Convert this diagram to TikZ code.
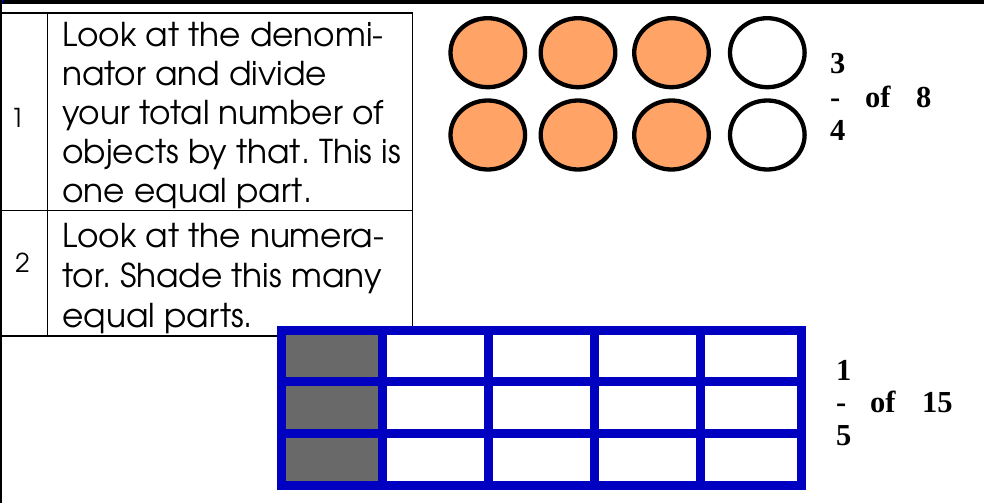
\documentclass[tikz,border=0pt]{standalone}
\usepackage{fontspec}
\newfontfamily\gothic{TeX Gyre Adventor}
\newfontfamily\tnr{Liberation Serif}
\definecolor{peach}{RGB}{255,163,102}
\definecolor{gridblue}{RGB}{0,0,192}
\definecolor{cellgray}{RGB}{105,105,105}
\frenchspacing
\begin{document}
\begin{tikzpicture}[x=1pt,y=-1pt,
  tline/.style={line width=1.3pt, black},
  body/.style={anchor=base west, inner sep=0pt, font=\gothic\fontsize{32.8}{39}\selectfont},
  numtxt/.style={anchor=base, inner sep=0pt, font=\gothic\fontsize{26}{30}\selectfont},
  frac/.style={anchor=base west, inner sep=0pt, font=\tnr\bfseries\fontsize{30.5}{34}\selectfont},
  disc/.style={line width=4.3pt, black},
  cellw/.style={fill=white},
  cellg/.style={fill=cellgray}]
\useasboundingbox (0,0) rectangle (984,503);
\fill[white] (0,0) rectangle (984,503);
% top band
\fill[black] (0,0) rectangle (984,4.5);
\fill[blue] (0,0) rectangle (3,3);
% left page rule
\draw[line width=2pt] (1,0) -- (1,503);
% table
\draw[tline] (0,13) -- (412.3,13) -- (412.3,336) -- (0,336);
\draw[tline] (0,210.7) -- (412.3,210.7);
\draw[tline] (47.7,13) -- (47.7,336);
\node[numtxt] (n1) at (17.5,127.7) {1};
\node[numtxt] (n2) at (22.5,272.7) {2};
\node[body] (a1) at (62,46.5) {Look at the denomi-};
\node[body] (a2) at (62,85.5) {nator and divide};
\node[body] (a3) at (62,124.5) {your total number of};
\node[body] (a4) at (62,163.5) {objects by that. This is};
\node[body] (a5) at (62,202.5) {one equal part.};
\node[body] (b1) at (62,247) {Look at the numera-};
\node[body] (b2) at (62,287) {tor. Shade this many};
\node[body] (b3) at (62,327) {equal parts.};
% circles
\foreach \x/\c in {487.8/peach,578/peach,671.5/peach,767.3/white}{
  \draw[disc,fill=\c] (\x,52.7) ellipse [x radius=37.3, y radius=34.5];
  \draw[disc,fill=\c] (\x,135) ellipse [x radius=37.3, y radius=34.5];
}
\node[frac] (f3) at (830,73.3) {3};
\node[frac] (fd1) at (830,107.3) {-};
\node[frac] (fof1) at (865,107.3) {of};
\node[frac] (f8) at (916,107.3) {8};
\node[frac] (f4) at (830,140.7) {4};
% grid
\fill[gridblue] (277,326) rectangle (806,490);
\foreach \ya/\yb in {335/377,386/429,438/481}{
  \fill[cellg] (286,\ya) rectangle (378,\yb);
  \fill[cellw] (387,\ya) rectangle (484,\yb);
  \fill[cellw] (493,\ya) rectangle (590,\yb);
  \fill[cellw] (599,\ya) rectangle (696,\yb);
  \fill[cellw] (705,\ya) rectangle (797,\yb);
}
\node[frac] (g1) at (836,380) {1};
\node[frac] (gd) at (836,412.7) {-};
\node[frac] (gof) at (870,412.7) {of};
\node[frac] (g15) at (922,412.7) {15};
\node[frac] (g5) at (836,445) {5};
\end{tikzpicture}
\end{document}
